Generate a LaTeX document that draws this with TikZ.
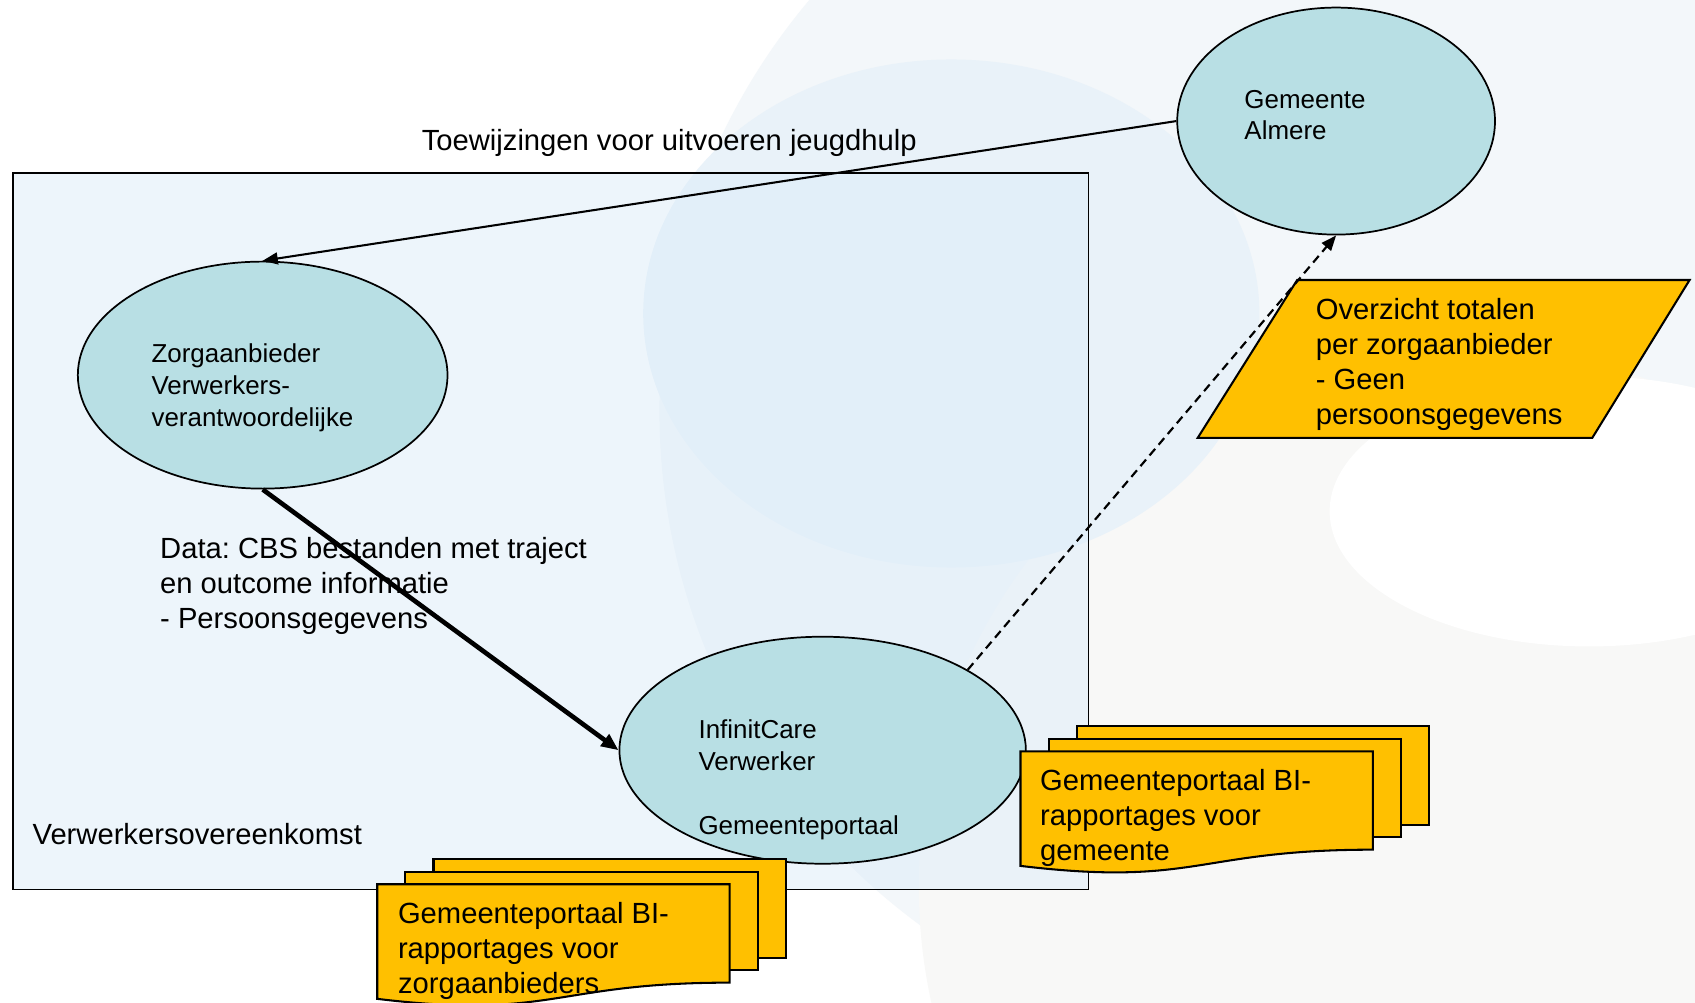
\documentclass[tikz,border=0pt]{standalone}
\usepackage{fontspec}
\setmainfont{Liberation Sans}
\usetikzlibrary{arrows.meta,shapes.geometric}
\definecolor{aqua}{RGB}{184,223,228}
\definecolor{gold}{HTML}{FFC000}
\definecolor{boxfill}{RGB}{221,237,249}
\definecolor{wmblue}{HTML}{E9F2F9}
\definecolor{wmlight}{HTML}{F3F7FA}
\definecolor{wmgray}{HTML}{F8F8F7}
\tikzset{
  oval/.style={ellipse, draw=black, line width=1.6pt, fill=aqua, inner sep=0pt},
  smalltext/.style={font=\fontsize{24}{29.5}\selectfont, align=left, inner sep=0pt, anchor=north west},
  bigtext/.style={font=\fontsize{27}{32.5}\selectfont, align=left, inner sep=0pt, anchor=north west},
  docframe/.style={draw=black, line width=1.9pt, fill=gold},
  thinarrow/.style={line width=1.9pt, -{Triangle[length=14pt,width=11pt]}},
  thickarrow/.style={line width=4.3pt, -{Triangle[length=16pt,width=13pt]}},
  dasharrow/.style={line width=2pt, dash pattern=on 8pt off 5pt, -{Triangle[length=14pt,width=11pt]}}
}
\newcommand{\docstack}[2]{%
  \path[docframe] (#1+52,#2-23) rectangle ++(326,91);
  \path[docframe] (#1+26,#2-11.5) rectangle ++(326,91);
  \path[docframe] (#1,#2) -- (#1+326,#2) -- (#1+326,#2+91)
     .. controls (#1+163,#2+91) and (#1+163,#2+125.6) .. (#1,#2+106) -- cycle;
}
\begin{document}
\frenchspacing
\begin{tikzpicture}[x=1pt,y=-1pt]
\useasboundingbox (0,0) rectangle (1568,927);
\fill[white] (0,0) rectangle (1568,927);
% watermark
\begin{scope}
\clip (0,0) rectangle (1568,927);
\fill[wmlight] (1200,380) circle (590);
\fill[wmgray] (1350,820) circle (500);
\fill[white] (1470,473) ellipse (240 and 125);
\fill[wmblue] (880,290) ellipse (285 and 235);
\end{scope}
% container
\path[draw=black, line width=1.5pt, fill=boxfill, fill opacity=0.5] (12,160) rectangle (1007,823);
\node[bigtext] (vwo) at (30,761.7) {Verwerkersovereenkomst};
% ellipses
\node[oval, minimum width=294pt, minimum height=210pt] (gem) at (1236,112) {};
\node[oval, minimum width=342pt, minimum height=210pt] (zorg) at (243,347) {};
\node[oval, minimum width=376pt, minimum height=210pt] (inf) at (761,694) {};
\node[smalltext] (gemtxt) at (1151,83) {Gemeente\\Almere};
\node[smalltext] (zorgtxt) at (140,318) {Zorgaanbieder\\Verwerkers-\\verantwoordelijke};
\node[smalltext] (inftxt) at (646,666) {InfinitCare\\Verwerker\\\strut\\Gemeenteportaal};
% labels
\node[bigtext] (toew) at (390,119.7) {Toewijzingen voor uitvoeren jeugdhulp};
\node[bigtext] (data) at (148,496.7) {Data: CBS bestanden met traject\\en outcome informatie\\- Persoonsgegevens};
% parallelogram
\path[docframe] (1200,259) -- (1563,259) -- (1473,405) -- (1108,405) -- cycle;
\node[bigtext] (ovz) at (1217,275.7) {Overzicht totalen\\per zorgaanbieder\\- Geen\\persoonsgegevens};
% document stacks
\docstack{944}{695}
\node[bigtext] (docg) at (962,711.7) {Gemeenteportaal BI-\\rapportages voor\\gemeente};
\docstack{349}{818}
\node[bigtext] (docz) at (368,834.7) {Gemeenteportaal BI-\\rapportages voor\\zorgaanbieders};
% connectors
\draw[thinarrow] (gem.west) -- (zorg.north);
\draw[thickarrow] (zorg.south) -- (inf.west);
\draw[dasharrow] (inf.29) -- (gem.south);
\end{tikzpicture}
\end{document}
